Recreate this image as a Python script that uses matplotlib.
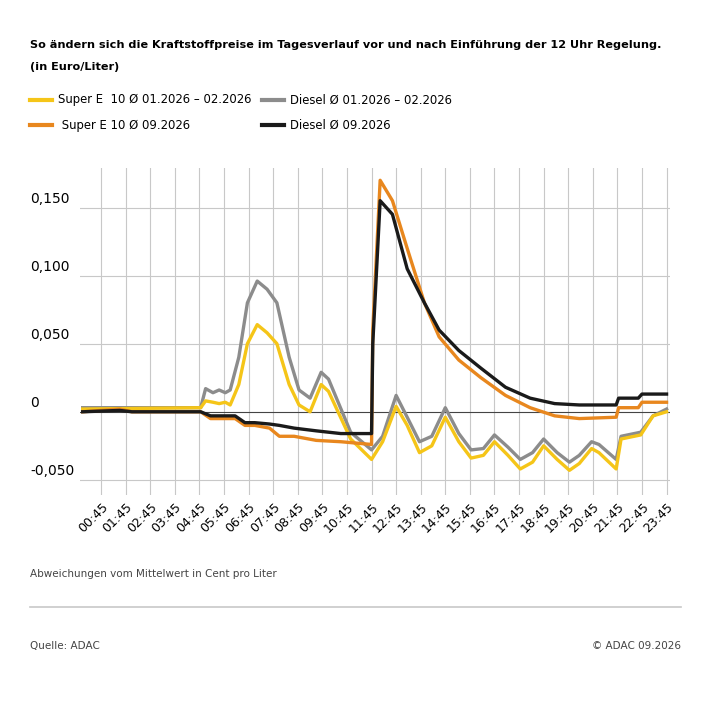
import matplotlib.pyplot as plt
from matplotlib.lines import Line2D

# hours since 00:00
t_s1 = [0, 4.8, 5.0, 5.3, 5.55, 5.8, 6.0, 6.35, 6.7, 7.1, 7.5, 7.9, 8.4, 8.8, 9.25, 9.7, 10.0, 10.9, 11.75,
        12.2, 12.75, 13.2, 13.7, 14.2, 14.75, 15.3, 15.8, 16.3, 16.75, 17.3, 17.8, 18.3, 18.75, 19.3,
        19.8, 20.2, 20.7, 21.0, 21.7, 21.9, 22.7, 23.2, 23.75]
super_old = [0.002, 0.003, 0.008, 0.007, 0.006, 0.007, 0.005, 0.02, 0.05, 0.064, 0.058, 0.05, 0.02, 0.005, 0.0,
             0.02, 0.015, -0.02, -0.035, -0.022, 0.004, -0.01, -0.03, -0.025, -0.004, -0.022, -0.034,
             -0.032, -0.022, -0.032, -0.042, -0.037, -0.025, -0.035, -0.043, -0.038, -0.027, -0.03,
             -0.042, -0.02, -0.017, -0.003, 0.0]
diesel_old = [0.003, 0.003, 0.017, 0.014, 0.016, 0.014, 0.016, 0.04, 0.08, 0.096, 0.09, 0.08, 0.04, 0.016, 0.010,
              0.029, 0.024, -0.015, -0.028, -0.018, 0.012, -0.004, -0.022, -0.018, 0.003, -0.016, -0.028,
              -0.027, -0.017, -0.026, -0.035, -0.030, -0.020, -0.030, -0.037, -0.032, -0.022, -0.024,
              -0.035, -0.018, -0.015, -0.003, 0.002]

t_s2 = [0, 1.5, 2.0, 4.8, 5.2, 6.2, 6.6, 7.0, 7.6, 8.0, 8.6, 9.5, 10.5, 11.75, 11.8, 12.1, 12.6, 13.2, 13.9,
        14.5, 15.3, 16.2, 17.2, 18.2, 19.2, 20.2, 21.7, 21.8, 22.6, 22.75, 23.75]
super_new = [0.0, 0.002, 0.0, 0.0, -0.005, -0.005, -0.01, -0.01, -0.012, -0.018, -0.018, -0.021, -0.022, -0.024,
             0.06, 0.170, 0.155, 0.12, 0.08, 0.055, 0.038, 0.025, 0.012, 0.003, -0.003, -0.005, -0.004,
             0.003, 0.003, 0.007, 0.007]
diesel_new = [0.0, 0.001, 0.0, 0.0, -0.003, -0.003, -0.008, -0.008, -0.009, -0.01, -0.012, -0.014, -0.016, -0.016,
              0.05, 0.155, 0.145, 0.105, 0.08, 0.06, 0.045, 0.032, 0.018, 0.01, 0.006, 0.005, 0.005,
              0.01, 0.01, 0.013, 0.013]

tick_hours = [h + 0.75 for h in range(24)]
tick_labels = [f'{h:02d}:45' for h in range(24)]
y_ticks = [-0.05, 0, 0.05, 0.1, 0.15]
y_labels = ['-0,050', '0', '0,050', '0,100', '0,150']

c_yellow = '#f5c518'
c_gray = '#8c8c8c'
c_orange = '#e8871e'
c_black = '#1a1a1a'

fig = plt.figure(figsize=(7.1, 7.12), dpi=100)
ax = fig.add_axes([0.113, 0.305, 0.831, 0.459])
ax.set_xlim(-0.1, 23.9)
ax.set_ylim(-0.061, 0.179)

for x in tick_hours:
    ax.axvline(x, color='#c8c8c8', lw=0.8, zorder=0)
for y in y_ticks:
    ax.axhline(y, color='#444444' if y == 0 else '#c8c8c8', lw=0.8, zorder=0)

lw = 2.4
ax.plot(t_s1, diesel_old, color=c_gray, lw=lw)
ax.plot(t_s1, super_old, color=c_yellow, lw=lw)
ax.plot(t_s2, super_new, color=c_orange, lw=lw)
ax.plot(t_s2, diesel_new, color=c_black, lw=lw)

for s in ax.spines.values():
    s.set_visible(False)
ax.set_xticks(tick_hours)
ax.set_xticklabels(tick_labels, rotation=45, ha='right', rotation_mode='anchor', fontsize=9)
ax.tick_params(length=0, pad=4)
ax.set_yticks([])
for y, lab in zip(y_ticks, y_labels):
    ax.text(-0.085, y + 0.001, lab, transform=ax.get_yaxis_transform(), fontsize=10, ha='left', va='bottom')

fig.text(30/710, 1-45/712, 'So ändern sich die Kraftstoffpreise im Tagesverlauf vor und nach Einführung der 12 Uhr Regelung.',
         fontsize=8.15, weight='bold', va='center')
fig.text(30/710, 1-67/712, '(in Euro/Liter)', fontsize=8.15, weight='bold', va='center')

legend = [(30, 100, c_yellow, 'Super E  10 Ø 01.2026 \u2013 02.2026'),
          (262, 100, c_gray, 'Diesel Ø 01.2026 \u2013 02.2026'),
          (30, 125, c_orange, ' Super E 10 Ø 09.2026'),
          (262, 125, c_black, 'Diesel Ø 09.2026')]
for x, y, c, lab in legend:
    fig.add_artist(Line2D([x/710, (x+22)/710], [1-y/712]*2, color=c, lw=3))
    fig.text((x+28)/710, 1-y/712, lab, fontsize=8.4, va='center')

fig.text(30/710, 1-574/712, 'Abweichungen vom Mittelwert in Cent pro Liter', fontsize=7.5, color='#444444', va='center')
fig.add_artist(Line2D([30/710, 681/710], [1-607/712]*2, color='#c8c8c8', lw=1.2))
fig.text(30/710, 1-646/712, 'Quelle: ADAC', fontsize=7.5, color='#444444', va='center')
fig.text(681/710, 1-646/712, '\u00a9 ADAC 09.2026', fontsize=7.5, color='#444444', va='center', ha='right')

fig.savefig('out.png', dpi=100)
